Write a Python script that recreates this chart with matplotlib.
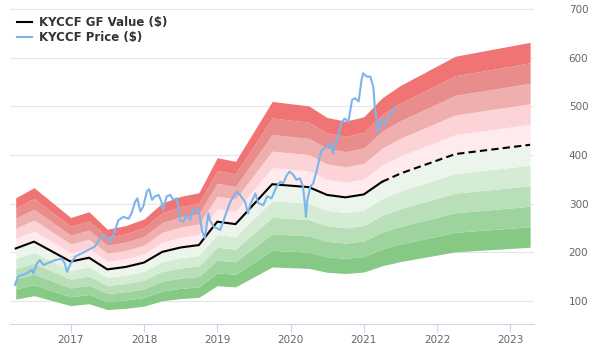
import matplotlib
matplotlib.use("Agg")
import matplotlib.pyplot as plt
from matplotlib.lines import Line2D
import numpy as np

# GF Value (decimal year, $)
gf_years = [2016.25, 2016.5, 2017.0, 2017.25, 2017.5, 2017.75, 2018.0, 2018.25, 2018.5,
            2018.75, 2019.0, 2019.25, 2019.75, 2020.0, 2020.25, 2020.5, 2020.75, 2021.0,
            2021.25]
gf_values = [208, 222, 181, 189, 165, 170, 179, 201, 210,
             215, 263, 258, 340, 337, 334, 318, 313, 319,
             345]
# GF Value estimate (dashed)
gf_est_years = [2021.25, 2021.5, 2022.25, 2023.27]
gf_est_values = [345, 362, 402, 421]

# Price ($)
price_years = [2016.24, 2016.28, 2016.40, 2016.47, 2016.49, 2016.54, 2016.58, 2016.63, 2016.69,
               2016.79, 2016.88, 2016.92, 2016.95, 2016.99, 2017.06, 2017.15, 2017.24, 2017.33,
               2017.40, 2017.47, 2017.54, 2017.60, 2017.65, 2017.72, 2017.79, 2017.83, 2017.88,
               2017.91, 2017.95, 2017.99, 2018.04, 2018.07, 2018.11, 2018.15, 2018.20, 2018.24,
               2018.26, 2018.31, 2018.36, 2018.40, 2018.45, 2018.49, 2018.54, 2018.58, 2018.63,
               2018.67, 2018.72, 2018.76, 2018.79, 2018.83, 2018.88, 2018.90, 2018.95, 2018.99,
               2019.04, 2019.08, 2019.13, 2019.17, 2019.22, 2019.27, 2019.31, 2019.38, 2019.42,
               2019.45, 2019.52, 2019.56, 2019.63, 2019.68, 2019.74, 2019.81, 2019.86, 2019.90,
               2019.95, 2019.99, 2020.04, 2020.08, 2020.13, 2020.17, 2020.20, 2020.21, 2020.23,
               2020.27, 2020.31, 2020.36, 2020.38, 2020.40, 2020.43, 2020.47, 2020.54, 2020.58,
               2020.63, 2020.70, 2020.74, 2020.79, 2020.84, 2020.88, 2020.93, 2020.97, 2020.99,
               2021.04, 2021.09, 2021.13, 2021.15, 2021.18, 2021.20, 2021.24, 2021.29, 2021.33,
               2021.38, 2021.43]
price_values = [133, 150, 157, 164, 157, 177, 184, 174, 178,
                184, 187, 177, 160, 174, 191, 198, 205, 212,
                229, 236, 222, 243, 266, 273, 269, 280, 304,
                311, 284, 294, 325, 330, 308, 315, 318, 304,
                287, 315, 318, 308, 311, 266, 263, 277, 266,
                287, 290, 277, 246, 229, 280, 266, 253, 250,
                246, 263, 284, 301, 315, 325, 318, 304, 280,
                298, 321, 301, 297, 315, 311, 335, 345, 342,
                359, 366, 359, 349, 352, 335, 294, 273, 308,
                335, 342, 369, 383, 397, 411, 414, 424, 403,
                431, 468, 475, 468, 513, 517, 510, 555, 568,
                561, 561, 540, 499, 465, 448, 472, 462, 476,
                486, 499]

band_factors = [0.5, 0.6, 0.7, 0.8, 0.9, 1.0, 1.1, 1.2, 1.3, 1.4, 1.5]
band_colors = ["#85c985", "#9dd39d", "#b8dfb8", "#d4ebd4", "#ebf5eb",
               "#ffebed", "#fcd4d7", "#f0afaf", "#e88c8c", "#f07474"]

x_ticks = [2017, 2018, 2019, 2020, 2021, 2022, 2023]
y_ticks = [100, 200, 300, 400, 500, 600, 700]

fig = plt.figure(figsize=(6, 3.6), dpi=100)
ax = fig.add_axes([10 / 600, 1 - 323.7 / 360, 524 / 600, 323.7 / 360])

all_years = np.array(gf_years + gf_est_years[1:])
all_values = np.array(gf_values + gf_est_values[1:])
for i in range(len(band_factors) - 1):
    ax.fill_between(all_years, all_values * band_factors[i], all_values * band_factors[i + 1],
                    color=band_colors[i], linewidth=0, zorder=2)

ax.plot(gf_years, gf_values, color="black", lw=1.5, zorder=4)
ax.plot(gf_est_years, gf_est_values, color="black", lw=1.5, ls=(0, (3.5, 2)), zorder=4)
ax.plot(price_years, price_values, color="#7cb5ec", lw=1.5, zorder=5)

ax.set_xlim(2016.172, 2023.323)
ax.set_ylim(53.4, 718.5)
ax.set_axisbelow(True)
ax.set_yticks(y_ticks)
ax.set_xticks(x_ticks)
ax.set_xticklabels([str(t) for t in x_ticks])
ax.grid(axis="y", color="#e6e6e6", lw=0.8, zorder=0)
ax.grid(axis="x", visible=False)
for s in ["top", "left", "right"]:
    ax.spines[s].set_visible(False)
ax.spines["bottom"].set_color("#ccd6eb")
ax.spines["bottom"].set_linewidth(0.8)
ax.yaxis.tick_right()
ax.tick_params(axis="y", length=0, pad=25, labelsize=7.5, labelcolor="#666666")
ax.tick_params(axis="x", length=5.8, width=0.8, color="#ccd6eb", pad=2,
               labelsize=7.5, labelcolor="#666666")
for lbl in ax.get_yticklabels():
    lbl.set_horizontalalignment("left")

handles = [Line2D([], [], color="black", lw=1.5),
           Line2D([], [], color="#7cb5ec", lw=1.5)]
leg = fig.legend(handles, ["KYCCF GF Value ($)", "KYCCF Price ($)"], loc="upper left",
                 bbox_to_anchor=(17 / 600, 1 - 16 / 360), bbox_transform=fig.transFigure,
                 frameon=False, borderpad=0, borderaxespad=0, handlelength=1.3,
                 handletextpad=0.6, labelspacing=0.15,
                 prop={"weight": "bold", "size": 8.5})
for t in leg.get_texts():
    t.set_color("#333333")

fig.savefig("out.png", dpi=100)
